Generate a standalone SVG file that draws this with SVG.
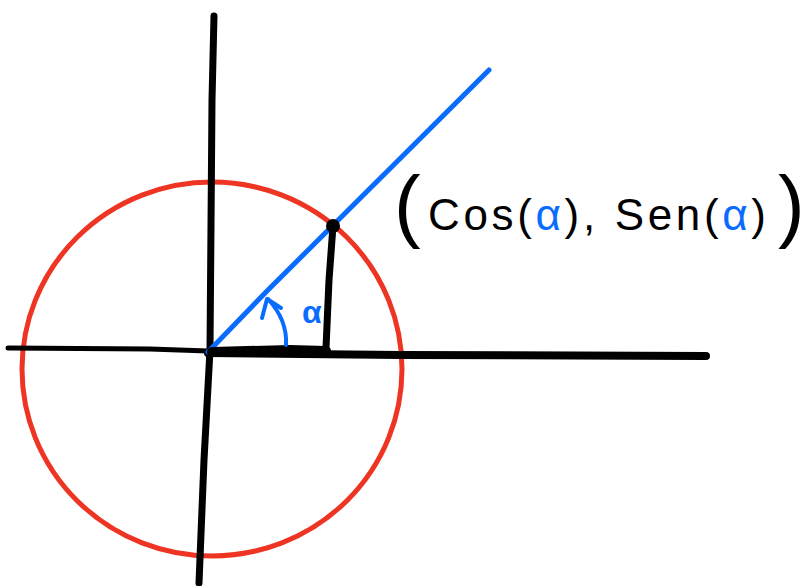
<svg xmlns="http://www.w3.org/2000/svg" width="808" height="586" viewBox="0 0 808 586">
<style>
.ax{fill:none;stroke:#000;stroke-linecap:round;stroke-linejoin:round}
.bl{fill:none;stroke:#0a6cff;stroke-linecap:round;stroke-linejoin:round}
.t{font-family:"Liberation Sans",Arial,sans-serif;fill:#000}
.a{fill:#0a6cff}
</style>
<rect width="808" height="586" fill="#fff"/>
<g id="circle"><ellipse cx="212" cy="369" rx="190" ry="187" fill="none" stroke="#ee3524" stroke-width="5"/></g>
<g id="axes">
<path class="ax" d="M8 348 L150 349 L208 351" stroke-width="5"/>
<path class="ax" d="M208 353 L400 355 L706 356" stroke-width="8"/>
<path class="ax" d="M214 16 L212 100 L210 350 L204 460 L199 583" stroke-width="7"/>
</g>
<g id="connectors">
<path class="bl" d="M208 352 L268 290 L489 70" stroke-width="5"/>
<path class="ax" d="M212 352 L290 350 L326 351" stroke-width="10"/>
<path class="ax" d="M333 226 L329 280 L326 348" stroke-width="7"/>
<circle cx="333" cy="226" r="7" fill="#000"/>
</g>
<g id="angle">
<path class="bl" d="M286 345 C287 328 280 312 268 299" stroke-width="4"/>
<path class="bl" d="M262 318 L267 299 L281 308" stroke-width="4"/>
<text class="t a" x="302" y="323" font-size="32" font-weight="bold">α</text>
</g>
<g id="label">
<text class="t" x="394" y="232" font-size="80">(</text>
<text class="t" x="778" y="232" font-size="80">)</text>
<text class="t" x="428" y="230" font-size="44" textLength="338" lengthAdjust="spacing">Cos(<tspan class="a">α</tspan>), Sen(<tspan class="a">α</tspan>)</text>
</g>
</svg>
